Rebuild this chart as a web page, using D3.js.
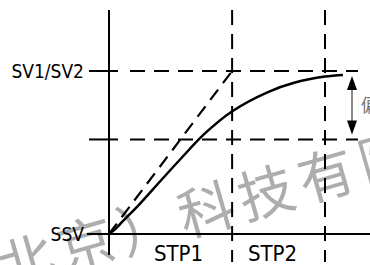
<!DOCTYPE html>
<html>
<head>
<meta charset="utf-8">
<script src="https://cdn.jsdelivr.net/npm/d3@7"></script>
<style>
  html, body { margin: 0; padding: 0; background: #fff; }
  svg { display: block; }
  .lbl { font-family: "DejaVu Sans Condensed", "DejaVu Sans", sans-serif; fill: #000; }
</style>
</head>
<body>
<svg id="chart"></svg>
<script>
// level axis: SSV at 0, SV1/SV2 at 100, intermediate guide at midLevel
const levelValues = [0, 100];
const levelLabels = ["SSV", "SV1/SV2"];
const midLevel = 58;

// time axis: step boundaries
const stepEnds = [57, 100];
const stepLabels = ["STP1", "STP2"];

// dashed ramp (target)
const rampX = [0, 57];
const rampY = [0, 100];

// actual response curve
const curveX = [0, 2.8, 6.5, 14.4, 23.6, 32.9, 44.4, 56.9, 73.6, 86.1, 100, 108.3];
const curveY = [0, 2.8, 8.0, 18.7, 32.2, 45.7, 61.7, 75.2, 87.1, 92.9, 96.6, 97.6];

const watermark = "北京）科技有限公司";

const width = 370, height = 265;

const svg = d3.select("#chart").attr("width", width).attr("height", height);

const x = d3.scaleLinear().domain([0, 100]).range([109, 325]);
const y = d3.scaleLinear().domain([0, 100]).range([234, 71]);

// watermark behind everything
svg.append("text")
  .attr("transform", "translate(5,289) rotate(-16)")
  .attr("font-family", "'Noto Sans CJK SC', sans-serif")
  .attr("font-size", 56)
  .attr("letter-spacing", 6.4)
  .attr("fill", "#adadad")
  .text(watermark);

const dash = "15,9";

// vertical dashed step boundaries
svg.selectAll(".vstep")
  .data(stepEnds)
  .join("line")
  .attr("x1", d => x(d)).attr("x2", d => x(d))
  .attr("y1", 10).attr("y2", 262)
  .attr("stroke", "#000").attr("stroke-width", 2)
  .attr("stroke-dasharray", dash);

// horizontal dashed guides
svg.selectAll(".hguide")
  .data([100, midLevel])
  .join("line")
  .attr("x1", 130).attr("x2", 358)
  .attr("y1", d => y(d)).attr("y2", d => y(d))
  .attr("stroke", "#000").attr("stroke-width", 2)
  .attr("stroke-dasharray", dash);

// ticks on the level axis
svg.selectAll(".tick")
  .data([100, midLevel])
  .join("line")
  .attr("x1", 89).attr("x2", 118)
  .attr("y1", d => y(d)).attr("y2", d => y(d))
  .attr("stroke", "#000").attr("stroke-width", 2);

// axes
svg.append("line")
  .attr("x1", x(0)).attr("x2", x(0))
  .attr("y1", 10).attr("y2", 255)
  .attr("stroke", "#000").attr("stroke-width", 2);
svg.append("line")
  .attr("x1", 87).attr("x2", 370)
  .attr("y1", y(0)).attr("y2", y(0))
  .attr("stroke", "#000").attr("stroke-width", 2);

// ramp
svg.append("path")
  .datum(d3.zip(rampX, rampY))
  .attr("fill", "none")
  .attr("stroke", "#000").attr("stroke-width", 2.2)
  .attr("stroke-dasharray", "13,8")
  .attr("d", d3.line().x(d => x(d[0])).y(d => y(d[1])));

// response curve
svg.append("path")
  .datum(d3.zip(curveX, curveY))
  .attr("fill", "none")
  .attr("stroke", "#000").attr("stroke-width", 2.5)
  .attr("d", d3.line().x(d => x(d[0])).y(d => y(d[1])).curve(d3.curveCatmullRom.alpha(0.5)));

// double arrow between SV and guide
const ax = 352;
svg.append("line")
  .attr("x1", ax).attr("x2", ax)
  .attr("y1", y(100) + 8).attr("y2", y(midLevel) - 8)
  .attr("stroke", "#666").attr("stroke-width", 1.5);
svg.append("path")
  .attr("d", `M${ax},${y(100) + 5} L${ax - 5},${y(100) + 19} L${ax + 5},${y(100) + 19} Z`)
  .attr("fill", "#000");
svg.append("path")
  .attr("d", `M${ax},${y(midLevel) - 5} L${ax - 5},${y(midLevel) - 19} L${ax + 5},${y(midLevel) - 19} Z`)
  .attr("fill", "#000");
svg.append("text")
  .attr("x", 361).attr("y", (y(100) + y(midLevel)) / 2 + 7)
  .attr("font-family", "'Noto Sans CJK JP', sans-serif")
  .attr("font-size", 18)
  .attr("fill", "#777")
  .text("偏差");

// level labels
svg.selectAll(".lvl")
  .data(levelValues)
  .join("text")
  .attr("class", "lbl")
  .attr("x", 84)
  .attr("y", d => y(d))
  .attr("dy", "0.36em")
  .attr("text-anchor", "end")
  .attr("font-size", 19)
  .text((d, i) => levelLabels[i]);

// step labels
const stepStarts = [0].concat(stepEnds.slice(0, -1));
svg.selectAll(".stp")
  .data(stepEnds)
  .join("text")
  .attr("class", "lbl")
  .attr("x", (d, i) => (x(stepStarts[i]) + x(d)) / 2 + (i === 0 ? 8 : -6))
  .attr("y", 261)
  .attr("text-anchor", "middle")
  .attr("font-size", 22)
  .text((d, i) => stepLabels[i]);
</script>
</body>
</html>
